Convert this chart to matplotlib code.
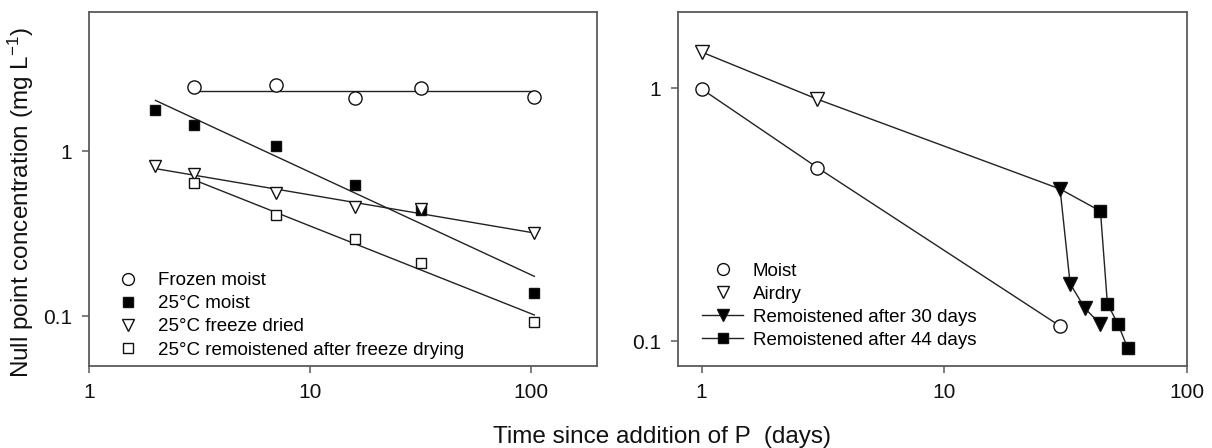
import numpy as np
import matplotlib
matplotlib.use("Agg")
import matplotlib.pyplot as plt
from matplotlib.ticker import FixedLocator, FixedFormatter, NullLocator

plt.rcParams['font.family'] = ['Liberation Sans', 'DejaVu Sans']
plt.rcParams['mathtext.default'] = 'regular'

# ---------------- Left panel data ----------------
frozen_x = [3, 7, 16, 32, 104]
frozen_y = [2.45, 2.54, 2.12, 2.42, 2.14]

moist25_x = [2, 3, 7, 16, 32, 104]
moist25_y = [1.79, 1.45, 1.08, 0.628, 0.439, 0.139]

fdried_x = [2, 3, 7, 16, 32, 104]
fdried_y = [0.815, 0.726, 0.559, 0.46, 0.45, 0.32]

remfd_x = [3, 7, 16, 32, 104]
remfd_y = [0.643, 0.413, 0.293, 0.212, 0.093]

left_labels = ["Frozen moist", "25°C moist", "25°C freeze dried",
               "25°C remoistened after freeze drying"]

# ---------------- Right panel data ----------------
moist_x = [1, 3, 30]
moist_y = [0.994, 0.486, 0.115]

airdry_x = [1, 3, 30, 44]
airdry_y = [1.39, 0.905, 0.40, 0.327]

rem30_x = [30, 33, 38, 44]
rem30_y = [0.40, 0.169, 0.135, 0.117]

rem44_x = [44, 47, 52, 57]
rem44_y = [0.327, 0.141, 0.117, 0.094]

right_labels = ["Moist", "Airdry", "Remoistened after 30 days",
                "Remoistened after 44 days"]

x_ticks = [1, 10, 100]
x_ticklabels = ["1", "10", "100"]
y_ticks = [0.1, 1]
y_ticklabels = ["0.1", "1"]

W, H = 1212, 448
fig = plt.figure(figsize=(W / 100, H / 100), dpi=100)

def px_axes(l, r, t, b):
    return fig.add_axes([l / W, (H - b) / H, (r - l) / W, (b - t) / H])

axL = px_axes(89, 597, 12, 366)
axR = px_axes(678, 1187, 12, 366)

frame_col = "#5a5a5a"
line_col = "#222222"
for ax in (axL, axR):
    ax.set_xscale("log")
    ax.set_yscale("log")
    for sp in ax.spines.values():
        sp.set_color(frame_col)
        sp.set_linewidth(1.3)
    ax.xaxis.set_major_locator(FixedLocator(x_ticks))
    ax.xaxis.set_major_formatter(FixedFormatter(x_ticklabels))
    ax.yaxis.set_major_locator(FixedLocator(y_ticks))
    ax.yaxis.set_major_formatter(FixedFormatter(y_ticklabels))
    ax.xaxis.set_minor_locator(NullLocator())
    ax.yaxis.set_minor_locator(NullLocator())
    ax.tick_params(axis="both", which="major", direction="out", length=5,
                   width=1.1, color=frame_col, labelsize=15, pad=7,
                   labelcolor="#111111")

axL.set_xlim(1, 200)
axL.set_ylim(0.05, 7)
axR.set_xlim(0.8, 100)
axR.set_ylim(0.08, 2)

# ---- left panel: regression lines in log-log space ----
def fit_line(ax, xs, ys, flat=False):
    lx, ly = np.log10(xs), np.log10(ys)
    if flat:
        k, c = 0.0, ly.mean()
    else:
        k, c = np.polyfit(lx, ly, 1)
    xe = np.array([min(lx), max(lx)])
    ax.plot(10 ** xe, 10 ** (k * xe + c), color=line_col, lw=1.0, zorder=2)

fit_line(axL, frozen_x, frozen_y, flat=True)
for xs, ys in [(moist25_x, moist25_y), (fdried_x, fdried_y), (remfd_x, remfd_y)]:
    fit_line(axL, xs, ys)

mk_kw = dict(linestyle="none", markeredgecolor="#111111", markeredgewidth=1.0, zorder=3)
axL.plot(frozen_x, frozen_y, marker="o", markersize=9.5, markerfacecolor="white",
         label=left_labels[0], **mk_kw)
axL.plot(moist25_x, moist25_y, marker="s", markersize=7.8, markerfacecolor="black",
         label=left_labels[1], **mk_kw)
axL.plot(fdried_x, fdried_y, marker="v", markersize=9, markerfacecolor="white",
         label=left_labels[2], **mk_kw)
axL.plot(remfd_x, remfd_y, marker="s", markersize=7.8, markerfacecolor="white",
         label=left_labels[3], **mk_kw)

legL = axL.legend(loc="lower left", bbox_to_anchor=(0.036, 0.021), frameon=False,
                  fontsize=13.5, borderpad=0, borderaxespad=0, handlelength=2.2,
                  handletextpad=0.5, labelspacing=0.32, markerscale=0.9)

# ---- right panel ----
axR.plot(moist_x, moist_y, color=line_col, lw=1.0, zorder=2)
axR.plot(airdry_x, airdry_y, color=line_col, lw=1.0, zorder=2)
axR.plot(moist_x, moist_y, marker="o", markersize=9.5, markerfacecolor="white",
         label=right_labels[0], **mk_kw)
axR.plot(airdry_x[:2], airdry_y[:2], marker="v", markersize=9.5, markerfacecolor="white",
         label=right_labels[1], **mk_kw)
axR.plot(rem30_x, rem30_y, color=line_col, lw=1.0, marker="v", markersize=9.5,
         markerfacecolor="black", markeredgecolor="#111111", zorder=3,
         label=right_labels[2])
axR.plot(rem44_x, rem44_y, color=line_col, lw=1.0, marker="s", markersize=8,
         markerfacecolor="black", markeredgecolor="#111111", zorder=3,
         label=right_labels[3])

legR = axR.legend(loc="lower left", bbox_to_anchor=(0.047, 0.048), frameon=False,
                  fontsize=13.5, borderpad=0, borderaxespad=0, handlelength=2.2,
                  handletextpad=0.5, labelspacing=0.32, markerscale=0.9)

fig.text(21 / W, (H - 203) / H, "Null point concentration (mg L$^{-1}$)",
         rotation=90, ha="center", va="center", fontsize=17.5, color="#111111")
fig.text(662 / W, (H - 437) / H, "Time since addition of P  (days)",
         ha="center", va="center", fontsize=17.5, color="#111111")

fig.savefig("out.png", dpi=100)
